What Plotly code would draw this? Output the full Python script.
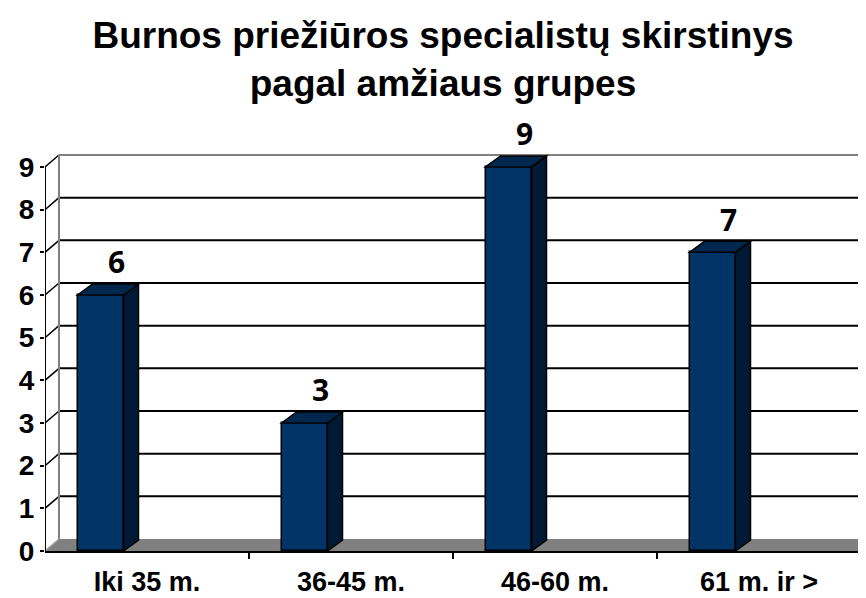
import plotly.graph_objects as go

# ---------------- data ----------------
categories = ["Iki 35 m.", "36-45 m.", "46-60 m.", "61 m. ir >"]
values = [6, 3, 9, 7]
y_ticks = list(range(0, 10))
title_lines = ["Burnos priežiūros specialistų skirstinys", "pagal amžiaus grupes"]

# ---------------- geometry ----------------
# the page body adds an 8px margin, so the figure is 8px smaller than the window
W, H = 858, 590
ML, MR, MT, MB = 37, 0, 145, 47
PW = W - ML - MR
PH = H - MT - MB
PX_PER_CAT = 204.0
PX_PER_UNIT = 42.67
X0 = -0.5
X1 = X0 + PW / PX_PER_CAT
Y1 = PH / PX_PER_UNIT

BAR_OFFSET = -69.5 / PX_PER_CAT
BAR_WIDTH = 46.0 / PX_PER_CAT
BAR_DX = 15.0 / PX_PER_CAT
BAR_DY = 11.0 / PX_PER_UNIT
WALL_DX = 14.0 / PX_PER_CAT
WALL_DY = 12.0 / PX_PER_UNIT

FRONT = "#003366"
TOP = "#00284f"
SIDE = "#001a35"
FONT = "Liberation Sans, Arial, sans-serif"


def path(pts):
    return "M " + " L ".join(f"{x},{y}" for x, y in pts) + " Z"


shapes = []
# floor
shapes.append(dict(type="path", xref="x", yref="y", layer="below",
                   path=path([(X0, 0), (X0 + WALL_DX, WALL_DY), (X1 + WALL_DX, WALL_DY), (X1, 0)]),
                   fillcolor="#808080", line=dict(width=0)))
ymax = max(y_ticks)
# back wall gridlines + diagonal connectors on the side wall
for v in y_ticks:
    if v == 0:
        continue
    col = "#808080" if v == ymax else "black"
    shapes.append(dict(type="line", xref="x", yref="y", layer="below",
                       x0=X0 + WALL_DX, x1=X1 + WALL_DX, y0=v + WALL_DY, y1=v + WALL_DY,
                       line=dict(color=col, width=2)))
    shapes.append(dict(type="line", xref="x", yref="y", layer="below",
                       x0=X0, x1=X0 + WALL_DX, y0=v, y1=v + WALL_DY,
                       line=dict(color="black", width=1.5)))
# back wall left edge
shapes.append(dict(type="line", xref="x", yref="y", layer="below",
                   x0=X0 + WALL_DX, x1=X0 + WALL_DX, y0=WALL_DY, y1=ymax + WALL_DY,
                   line=dict(color="#808080", width=2)))
# floor-left diagonal
shapes.append(dict(type="line", xref="x", yref="y", layer="below",
                   x0=X0, x1=X0 + WALL_DX, y0=0, y1=WALL_DY,
                   line=dict(color="#a0a0a0", width=1.5)))
# front y axis line
shapes.append(dict(type="line", xref="x", yref="y", layer="above",
                   x0=X0, x1=X0, y0=0, y1=ymax,
                   line=dict(color="black", width=2)))

# bar side and top faces
for i, v in enumerate(values):
    xl = i + BAR_OFFSET
    xr = xl + BAR_WIDTH
    shapes.append(dict(type="path", xref="x", yref="y", layer="above",
                       path=path([(xr, 0), (xr + BAR_DX, BAR_DY), (xr + BAR_DX, v + BAR_DY), (xr, v)]),
                       fillcolor=SIDE, line=dict(color="black", width=1.5)))
    shapes.append(dict(type="path", xref="x", yref="y", layer="above",
                       path=path([(xl, v), (xl + BAR_DX, v + BAR_DY), (xr + BAR_DX, v + BAR_DY), (xr, v)]),
                       fillcolor=TOP, line=dict(color="black", width=1.5)))

fig = go.Figure()
fig.add_trace(go.Bar(
    x=list(range(len(categories))), y=values,
    offset=BAR_OFFSET, width=BAR_WIDTH,
    marker=dict(color=FRONT, line=dict(color="black", width=1.5)),
    hoverinfo="skip",
))

annotations = []
for i, v in enumerate(values):
    annotations.append(dict(
        x=i + BAR_OFFSET + BAR_WIDTH / 2, y=v, xref="x", yref="y",
        text=str(v), showarrow=False, xshift=16, yshift=33,
        font=dict(family="Open Sans, DejaVu Sans, sans-serif", size=30, color="black", weight="bold"),
    ))

fig.update_layout(
    width=W, height=H,
    margin=dict(l=ML, r=MR, t=MT, b=MB, pad=0),
    paper_bgcolor="white", plot_bgcolor="white",
    showlegend=False,
    bargap=0,
    title=dict(text="<br>".join(title_lines), x=(443 - 8) / W, xanchor="center", xref="container",
               y=1 - 40 / H, yanchor="top", yref="container",
               font=dict(family=FONT, size=37, color="black", weight="bold")),
    xaxis=dict(range=[X0, X1], tickvals=list(range(len(categories))), ticktext=categories,
               ticks="", showgrid=False, zeroline=False,
               showline=True, linecolor="black", linewidth=2,
               ticklabelstandoff=6,
               tickfont=dict(family=FONT, size=27, color="black", weight="bold"),
               minor=dict(tickvals=[i + 0.5 for i in range(len(categories) - 1)],
                          ticks="outside", ticklen=6, tickwidth=2, tickcolor="black",
                          showgrid=False),
               fixedrange=True),
    yaxis=dict(range=[0, Y1], tickvals=y_ticks, ticktext=[str(t) for t in y_ticks],
               ticks="outside", ticklen=4, tickwidth=2, tickcolor="black",
               showgrid=False, zeroline=False, showline=False,
               tickfont=dict(family=FONT, size=28, color="black", weight="bold"),
               fixedrange=True),
    shapes=shapes,
    annotations=annotations,
)

fig.write_html("out.html")
